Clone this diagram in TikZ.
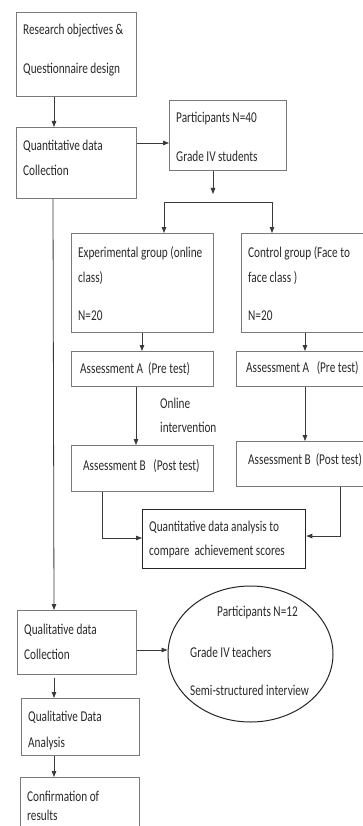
\documentclass[tikz,border=0pt]{standalone}
\usepackage{fontspec}
\setmainfont[FakeStretch=0.75]{Carlito}
\usetikzlibrary{arrows.meta,shapes.geometric}
\definecolor{boxline}{HTML}{7A7A7A}
\definecolor{txtcol}{HTML}{2A2A2A}
\definecolor{arrcol}{HTML}{3A3A3A}
\begin{document}
\begin{tikzpicture}[x=1pt,y=-1pt,
  box/.style={draw=boxline,line width=0.9pt,rectangle,inner sep=0pt,anchor=north west},
  thickbox/.style={draw=black!85,line width=1.3pt,rectangle,inner sep=0pt,anchor=north west},
  txt/.style={anchor=west,inner sep=0pt,text=txtcol,font=\fontsize{15pt}{18pt}\selectfont},
  arr/.style={draw=arrcol,line width=0.8pt,-{Triangle[length=6pt,width=4.5pt]}},
  ln/.style={draw=arrcol,line width=0.8pt}]
\useasboundingbox (0,0) rectangle (363,826);
\fill[white] (0,0) rectangle (363,826);

% boxes
\node[box,minimum width=120pt,minimum height=84pt] (b1) at (16,12) {};
\node[box,minimum width=120pt,minimum height=71pt] (b2) at (16,127) {};
\node[box,minimum width=117pt,minimum height=70pt] (p) at (169,100) {};
\node[box,minimum width=142pt,minimum height=99pt] (ex) at (71,233) {};
\node[box,minimum width=126pt,minimum height=99pt] (co) at (241,233) {};
\node[box,minimum width=142pt,minimum height=35pt] (exa) at (71,351) {};
\node[box,minimum width=130pt,minimum height=35pt] (coa) at (236,351) {};
\node[box,minimum width=142pt,minimum height=46pt] (exb) at (71,445) {};
\node[box,minimum width=130pt,minimum height=45pt] (cob) at (236,441) {};
\node[thickbox,minimum width=163pt,minimum height=59pt] (an) at (142,509) {};
\node[box,minimum width=119pt,minimum height=64pt] (ql) at (17,610) {};
\node[draw=black!85,line width=1pt,ellipse,minimum width=165pt,minimum height=136pt,inner sep=0pt] (el) at (250.5,654) {};
\node[box,minimum width=118pt,minimum height=57pt] (qa) at (21,698) {};
\node[box,minimum width=119pt,minimum height=70pt] (cf) at (20,777) {};

% texts
\node[txt] (t1) at (23,31) {Research objectives \&};
\node[txt] (t2) at (23,70) {Questionnaire design};
\node[txt] (t3) at (23,146) {Quantitative data};
\node[txt] (t4) at (23,170) {Collection};
\node[txt] (t5) at (176,119) {Participants N=40};
\node[txt] (t6) at (176,156) {Grade IV students};
\node[txt] (t7) at (78,253) {Experimental group (online};
\node[txt] (t8) at (78,278) {class)};
\node[txt] (t9) at (78,316) {N=20};
\node[txt] (t10) at (248,253) {Control group (Face to};
\node[txt] (t11) at (248,278) {face class )};
\node[txt] (t12) at (248,316) {N=20};
\node[txt] (t13) at (80,369) {Assessment A\ \ (Pre test)};
\node[txt] (t14) at (246,368) {Assessment A\ \ \ (Pre test)};
\node[txt] (t15) at (160,403) {Online};
\node[txt] (t16) at (160,427) {intervention};
\node[txt] (t17) at (83,466) {Assessment B\ \ \ (Post test)};
\node[txt] (t18) at (248,460) {Assessment B\ \ (Post test)};
\node[txt] (t19) at (149,527) {Quantitative data analysis to};
\node[txt] (t20) at (149,551) {compare\ \ achievement scores};
\node[txt] (t21) at (24,630) {Qualitative data};
\node[txt] (t22) at (24,654) {Collection};
\node[txt] (t23) at (217,613) {Participants N=12};
\node[txt] (t24) at (190,652) {Grade IV teachers};
\node[txt] (t25) at (190,690) {Semi-structured interview};
\node[txt] (t26) at (28,717) {Qualitative Data};
\node[txt] (t27) at (28,743) {Analysis};
\node[txt] (t28) at (27,796) {Confirmation of};
\node[txt] (t29) at (27,815) {results};

% connectors
\coordinate (ptip) at (213,194);
\coordinate (brl) at (164,202);
\coordinate (brr) at (272,202);
\draw[arr] ([xshift=38pt]b1.south west) -- ([xshift=38pt]b2.north west);
\draw[arr] ([yshift=-16pt]b2.north east) -- ([yshift=-43pt]p.north west);
\draw[arr] ([xshift=44pt]p.south west) -- (ptip);
\draw[ln] (brl) -- (brr);
\draw[arr] (brl) -- (brl |- ex.north);
\draw[arr] (brr) -- (brr |- co.north);
\draw[arr] ([xshift=71pt]ex.south west) -- ([xshift=71pt]exa.north west);
\draw[arr] ([xshift=64pt]co.south west) -- ([xshift=69pt]coa.north west);
\draw[arr] ([xshift=65pt]exa.south west) -- ([xshift=65pt]exb.north west);
\draw[arr] ([xshift=69pt]coa.south west) -- ([xshift=69pt]cob.north west);
\draw[arr] ([xshift=31pt]exb.south west) |- ([yshift=-29pt]an.north west);
\draw[arr] ([xshift=104pt]cob.south west) |- ([yshift=-27pt]an.north east);
\draw[arr] ([xshift=37pt]b2.south west) -- ([xshift=37pt]ql.north west);
\draw[arr] ([yshift=-40pt]ql.north east) -- (el.west |- {0,650});
\draw[arr] ([xshift=37pt,yshift=-3pt]ql.south west) -- ([xshift=33pt]qa.north west);
\draw[arr] ([xshift=33pt]qa.south west) -- ([xshift=34pt]cf.north west);
\end{tikzpicture}
\end{document}
